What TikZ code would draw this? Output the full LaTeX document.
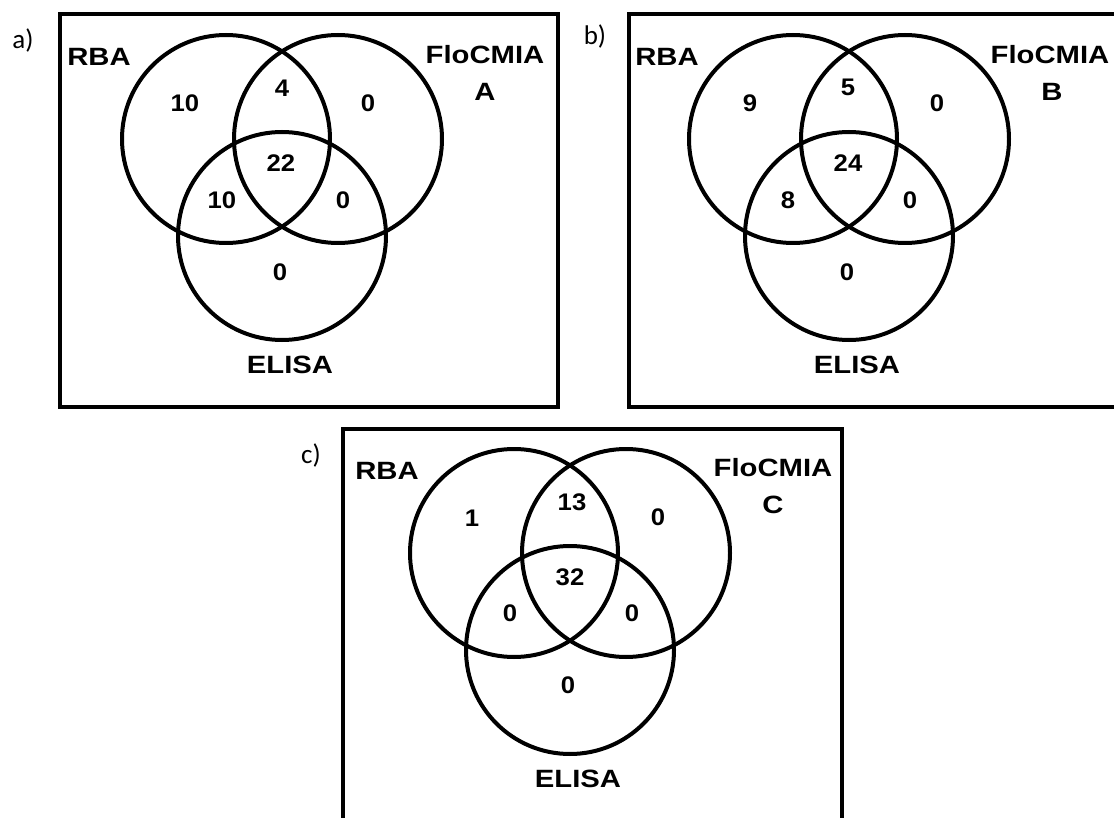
\documentclass[tikz,border=0pt]{standalone}
\usepackage{fontspec}
\setmainfont{Liberation Sans}
\newfontfamily\tagfont{Carlito}
\tikzset{
  frame/.style={draw=black, line width=3.5pt},
  vcircle/.style={circle, draw=black, line width=4pt, inner sep=0pt, minimum size=208pt},
  lbl/.style={inner sep=0pt, font=\bfseries\fontsize{25}{29}\selectfont},
  num/.style={inner sep=0pt, font=\bfseries\fontsize{24}{28}\selectfont},
  tag/.style={inner sep=0pt, font=\tagfont\fontsize{27}{30}\selectfont},
}
\newcommand{\wide}[1]{\scalebox{1.17}[1]{#1}}
\newcommand{\wnum}[1]{\scalebox{1.07}[1]{#1}}
\begin{document}
\begin{tikzpicture}[x=1pt,y=-1pt]
\useasboundingbox (0,0) rectangle (1114,818);
\clip (0,0) rectangle (1114,818);
% ---------- panel a ----------
\node[tag] (taga) at (23,41) {a)};
\draw[frame] (60,14) rectangle (558,407);
\node[vcircle] (ra) at (226,139) {};
\node[vcircle] (fa) at (338,139) {};
\node[vcircle] (ea) at (282,236) {};
\node[lbl] (rbaa) at (99,57) {\wide{RBA}};
\node[lbl] (floa) at (485,55) {\wide{FloCMIA}};
\node[lbl] (floal) at (485,92) {\wide{A}};
\node[lbl] (elia) at (290,365) {\wide{ELISA}};
\node[num] (a1) at (185,103) {\wnum{10}};
\node[num] (a2) at (282,88) {\wnum{4}};
\node[num] (a3) at (368,103) {\wnum{0}};
\node[num] (a4) at (281,163) {\wnum{22}};
\node[num] (a5) at (222,200) {\wnum{10}};
\node[num] (a6) at (343,200) {\wnum{0}};
\node[num] (a7) at (280,272) {\wnum{0}};
% ---------- panel b ----------
\node[tag] (tagb) at (595,37) {b)};
\draw[frame] (629,14) rectangle (1127,407);
\node[vcircle] (rb) at (793,139) {};
\node[vcircle] (fb) at (905,139) {};
\node[vcircle] (eb) at (849,236) {};
\node[lbl] (rbab) at (667,57) {\wide{RBA}};
\node[lbl] (flob) at (1050,55) {\wide{FloCMIA}};
\node[lbl] (flobl) at (1052,92) {\wide{B}};
\node[lbl] (elib) at (857,365) {\wide{ELISA}};
\node[num] (b1) at (750,103) {\wnum{9}};
\node[num] (b2) at (848,87) {\wnum{5}};
\node[num] (b3) at (937,103) {\wnum{0}};
\node[num] (b4) at (848,163) {\wnum{24}};
\node[num] (b5) at (788,200) {\wnum{8}};
\node[num] (b6) at (910,200) {\wnum{0}};
\node[num] (b7) at (847,272) {\wnum{0}};
% ---------- panel c ----------
\node[tag] (tagc) at (311,455) {c)};
\draw[frame] (343,429) rectangle (842,822);
\node[vcircle] (rc) at (514,553) {};
\node[vcircle] (fc) at (626,553) {};
\node[vcircle] (ec) at (570,650) {};
\node[lbl] (rbac) at (387,471) {\wide{RBA}};
\node[lbl] (floc) at (773,468) {\wide{FloCMIA}};
\node[lbl] (flocl) at (773,505) {\wide{C}};
\node[lbl] (elic) at (578,779) {\wide{ELISA}};
\node[num] (c1) at (472,518) {\wnum{1}};
\node[num] (c2) at (572,502) {\wnum{13}};
\node[num] (c3) at (658,517) {\wnum{0}};
\node[num] (c4) at (570,577) {\wnum{32}};
\node[num] (c5) at (510,613) {\wnum{0}};
\node[num] (c6) at (632,613) {\wnum{0}};
\node[num] (c7) at (568,685) {\wnum{0}};
\end{tikzpicture}
\end{document}
